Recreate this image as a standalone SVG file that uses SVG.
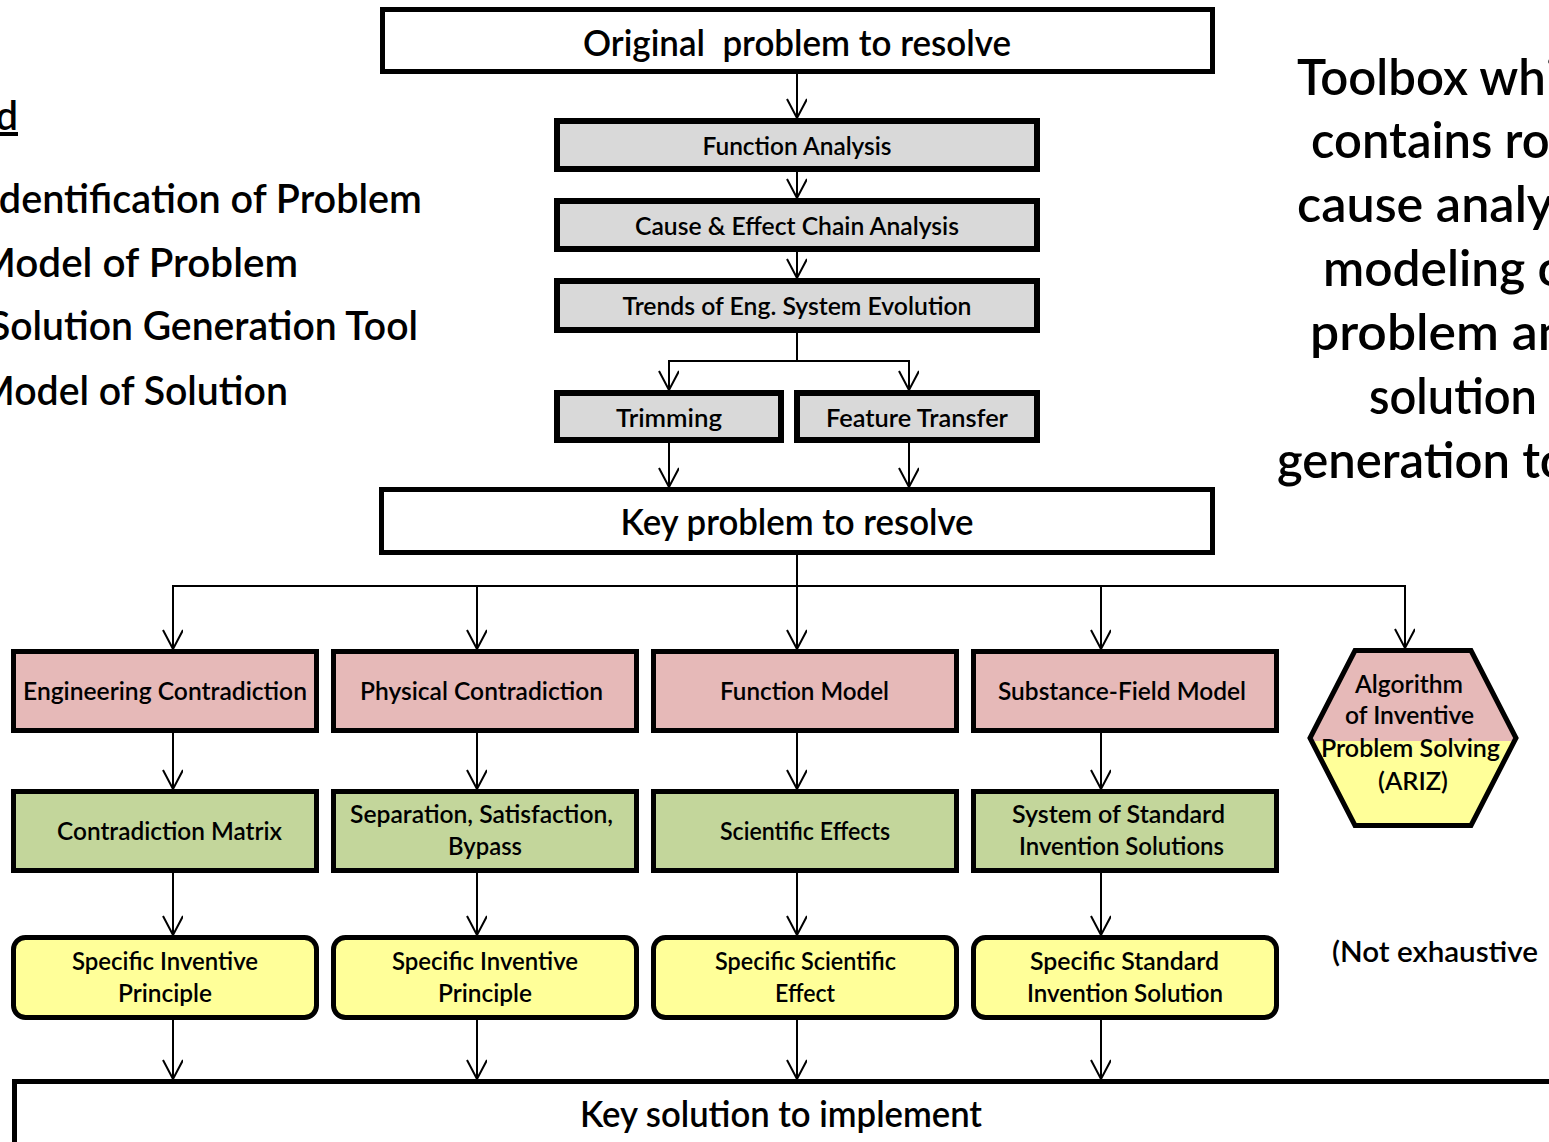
<svg xmlns="http://www.w3.org/2000/svg" width="1549" height="1142" viewBox="0 0 1549 1142">
<style>
text{font-family:Lato,"Liberation Sans",sans-serif;fill:#000;font-weight:600;white-space:pre}
.lbl{font-size:24px;text-anchor:middle}
.big{font-size:36px;text-anchor:middle}
.side{font-size:40px}
.tool{font-size:50px;text-anchor:middle}
.plain{fill:#fff;stroke:#000;stroke-width:5}
.gray{fill:#d9d9d9;stroke:#000;stroke-width:6}
.pink{fill:#e6b9b8;stroke:#000;stroke-width:5}
.green{fill:#c3d69b;stroke:#000;stroke-width:5}
.yellow{fill:#ffff99;stroke:#000;stroke-width:5}
.conn line,.conn polyline{stroke:#000;stroke-width:2;fill:none}
.conn .arr{marker-end:url(#ah)}
</style>
<defs>
<marker id="ah" markerUnits="userSpaceOnUse" markerWidth="22" markerHeight="22" refX="20" refY="10" orient="auto" viewBox="0 0 22 22"><path d="M1,0 L20,10 L1,20" fill="none" stroke="#000" stroke-width="2"/></marker>
<linearGradient id="hexfill" x1="0" y1="0" x2="0" y2="1"><stop offset="0.52" stop-color="#e6b9b8"/><stop offset="0.52" stop-color="#ffff99"/></linearGradient>
</defs>
<rect width="1549" height="1142" fill="#fff"/>

<g id="legend">
<text class="side" x="18" y="130" text-anchor="end" text-decoration="underline">Legend</text>
<text class="side" x="-12" y="213" textLength="434" lengthAdjust="spacingAndGlyphs">Identification of Problem</text>
<text class="side" x="-22" y="277" textLength="320" lengthAdjust="spacingAndGlyphs">Model of Problem</text>
<text class="side" x="-11" y="340" textLength="429" lengthAdjust="spacingAndGlyphs">Solution Generation Tool</text>
<text class="side" x="-22" y="405" textLength="310" lengthAdjust="spacingAndGlyphs">Model of Solution</text>
</g>

<g id="toolbox-note">
<text class="tool" x="1453" y="95" textLength="312" lengthAdjust="spacingAndGlyphs">Toolbox which</text>
<text class="tool" x="1453" y="158" textLength="284" lengthAdjust="spacingAndGlyphs">contains root</text>
<text class="tool" x="1453" y="222" textLength="312" lengthAdjust="spacingAndGlyphs">cause analysis</text>
<text class="tool" x="1453" y="286" textLength="260" lengthAdjust="spacingAndGlyphs">modeling of</text>
<text class="tool" x="1453" y="350" textLength="286" lengthAdjust="spacingAndGlyphs">problem and</text>
<text class="tool" x="1453" y="414" textLength="168" lengthAdjust="spacingAndGlyphs">solution</text>
<text class="tool" x="1453" y="478" textLength="352" lengthAdjust="spacingAndGlyphs">generation tools</text>
</g>

<g id="connectors" class="conn">
<line class="arr" x1="797" y1="74" x2="797" y2="118"/>
<line class="arr" x1="797" y1="172" x2="797" y2="198"/>
<line class="arr" x1="797" y1="252" x2="797" y2="278"/>
<line x1="797" y1="333" x2="797" y2="361"/>
<line x1="668" y1="361" x2="910" y2="361"/>
<line class="arr" x1="669" y1="361" x2="669" y2="390"/>
<line class="arr" x1="909" y1="361" x2="909" y2="390"/>
<line class="arr" x1="669" y1="443" x2="669" y2="487"/>
<line class="arr" x1="909" y1="443" x2="909" y2="487"/>
<line x1="797" y1="555" x2="797" y2="586"/>
<line x1="172" y1="586" x2="1406" y2="586"/>
<line class="arr" x1="173" y1="586" x2="173" y2="649"/>
<line class="arr" x1="477" y1="586" x2="477" y2="649"/>
<line class="arr" x1="797" y1="586" x2="797" y2="649"/>
<line class="arr" x1="1101" y1="586" x2="1101" y2="649"/>
<line class="arr" x1="1405" y1="586" x2="1405" y2="648"/>
<line class="arr" x1="173" y1="733" x2="173" y2="789"/>
<line class="arr" x1="477" y1="733" x2="477" y2="789"/>
<line class="arr" x1="797" y1="733" x2="797" y2="789"/>
<line class="arr" x1="1101" y1="733" x2="1101" y2="789"/>
<line class="arr" x1="173" y1="873" x2="173" y2="935"/>
<line class="arr" x1="477" y1="873" x2="477" y2="935"/>
<line class="arr" x1="797" y1="873" x2="797" y2="935"/>
<line class="arr" x1="1101" y1="873" x2="1101" y2="935"/>
<line class="arr" x1="173" y1="1020" x2="173" y2="1079"/>
<line class="arr" x1="477" y1="1020" x2="477" y2="1079"/>
<line class="arr" x1="797" y1="1020" x2="797" y2="1079"/>
<line class="arr" x1="1101" y1="1020" x2="1101" y2="1079"/>
</g>

<g id="original-problem">
<rect class="plain" x="382.5" y="9.5" width="830" height="62"/>
<text class="big" x="797" y="56" textLength="428" lengthAdjust="spacingAndGlyphs">Original  problem to resolve</text>
</g>
<g id="function-analysis">
<rect class="gray" x="557" y="121" width="480" height="48"/>
<text class="lbl" x="797" y="155" textLength="189" lengthAdjust="spacingAndGlyphs">Function Analysis</text>
</g>
<g id="cause-effect">
<rect class="gray" x="557" y="201" width="480" height="48"/>
<text class="lbl" x="797" y="235" textLength="324" lengthAdjust="spacingAndGlyphs">Cause &amp; Effect Chain Analysis</text>
</g>
<g id="trends">
<rect class="gray" x="557" y="281" width="480" height="49"/>
<text class="lbl" x="797" y="315" textLength="349" lengthAdjust="spacingAndGlyphs">Trends of Eng. System Evolution</text>
</g>
<g id="trimming">
<rect class="gray" x="557" y="393" width="224" height="47"/>
<text class="lbl" x="669" y="427" textLength="106" lengthAdjust="spacingAndGlyphs">Trimming</text>
</g>
<g id="feature-transfer">
<rect class="gray" x="797" y="393" width="240" height="47"/>
<text class="lbl" x="917" y="427" textLength="182" lengthAdjust="spacingAndGlyphs">Feature Transfer</text>
</g>
<g id="key-problem">
<rect class="plain" x="381.5" y="489.5" width="831" height="63"/>
<text class="big" x="797" y="535" textLength="353" lengthAdjust="spacingAndGlyphs">Key problem to resolve</text>
</g>

<g id="engineering-contradiction">
<rect class="pink" x="13.5" y="651.5" width="303" height="79"/>
<text class="lbl" x="165" y="700" textLength="284" lengthAdjust="spacingAndGlyphs">Engineering Contradiction</text>
</g>
<g id="physical-contradiction">
<rect class="pink" x="333.5" y="651.5" width="303" height="79"/>
<text class="lbl" x="481.5" y="700" textLength="243" lengthAdjust="spacingAndGlyphs">Physical Contradiction</text>
</g>
<g id="function-model">
<rect class="pink" x="653.5" y="651.5" width="303" height="79"/>
<text class="lbl" x="804.5" y="700" textLength="169" lengthAdjust="spacingAndGlyphs">Function Model</text>
</g>
<g id="substance-field-model">
<rect class="pink" x="973.5" y="651.5" width="303" height="79"/>
<text class="lbl" x="1122" y="700" textLength="248" lengthAdjust="spacingAndGlyphs">Substance-Field Model</text>
</g>
<g id="ariz">
<polygon points="1355,650.5 1471,650.5 1516,738 1471,825.5 1355,825.5 1310,738" fill="url(#hexfill)" stroke="#000" stroke-width="5"/>
<text class="lbl" x="1409" y="693" textLength="108" lengthAdjust="spacingAndGlyphs">Algorithm</text>
<text class="lbl" x="1409.5" y="724" textLength="129" lengthAdjust="spacingAndGlyphs">of Inventive</text>
<text class="lbl" x="1410.5" y="757" textLength="179" lengthAdjust="spacingAndGlyphs">Problem Solving</text>
<text class="lbl" x="1413" y="790" textLength="70" lengthAdjust="spacingAndGlyphs">(ARIZ)</text>
</g>

<g id="contradiction-matrix">
<rect class="green" x="13.5" y="791.5" width="303" height="79"/>
<text class="lbl" x="169.5" y="840" textLength="225" lengthAdjust="spacingAndGlyphs">Contradiction Matrix</text>
</g>
<g id="separation">
<rect class="green" x="333.5" y="791.5" width="303" height="79"/>
<text class="lbl" x="481.5" y="823" textLength="263" lengthAdjust="spacingAndGlyphs">Separation, Satisfaction,</text>
<text class="lbl" x="485" y="855" textLength="74" lengthAdjust="spacingAndGlyphs">Bypass</text>
</g>
<g id="scientific-effects">
<rect class="green" x="653.5" y="791.5" width="303" height="79"/>
<text class="lbl" x="805" y="840" textLength="170" lengthAdjust="spacingAndGlyphs">Scientific Effects</text>
</g>
<g id="standard-solutions">
<rect class="green" x="973.5" y="791.5" width="303" height="79"/>
<text class="lbl" x="1118.5" y="823" textLength="213" lengthAdjust="spacingAndGlyphs">System of Standard</text>
<text class="lbl" x="1121.5" y="855" textLength="205" lengthAdjust="spacingAndGlyphs">Invention Solutions</text>
</g>

<g id="specific-principle-1">
<rect class="yellow" x="13.5" y="937.5" width="303" height="80" rx="12"/>
<text class="lbl" x="165" y="970" textLength="186" lengthAdjust="spacingAndGlyphs">Specific Inventive</text>
<text class="lbl" x="165" y="1002" textLength="94" lengthAdjust="spacingAndGlyphs">Principle</text>
</g>
<g id="specific-principle-2">
<rect class="yellow" x="333.5" y="937.5" width="303" height="80" rx="12"/>
<text class="lbl" x="485" y="970" textLength="186" lengthAdjust="spacingAndGlyphs">Specific Inventive</text>
<text class="lbl" x="485" y="1002" textLength="94" lengthAdjust="spacingAndGlyphs">Principle</text>
</g>
<g id="specific-effect">
<rect class="yellow" x="653.5" y="937.5" width="303" height="80" rx="12"/>
<text class="lbl" x="805.5" y="970" textLength="181" lengthAdjust="spacingAndGlyphs">Specific Scientific</text>
<text class="lbl" x="805" y="1002" textLength="60" lengthAdjust="spacingAndGlyphs">Effect</text>
</g>
<g id="specific-standard">
<rect class="yellow" x="973.5" y="937.5" width="303" height="80" rx="12"/>
<text class="lbl" x="1124.5" y="970" textLength="189" lengthAdjust="spacingAndGlyphs">Specific Standard</text>
<text class="lbl" x="1125" y="1002" textLength="196" lengthAdjust="spacingAndGlyphs">Invention Solution</text>
</g>

<g id="not-exhaustive">
<text x="1332" y="962" font-size="28" textLength="206" lengthAdjust="spacingAndGlyphs">(Not exhaustive</text>
</g>

<g id="key-solution">
<rect class="plain" x="14.5" y="1081.5" width="1560" height="100"/>
<text class="big" x="781" y="1127" textLength="402" lengthAdjust="spacingAndGlyphs">Key solution to implement</text>
</g>
</svg>
